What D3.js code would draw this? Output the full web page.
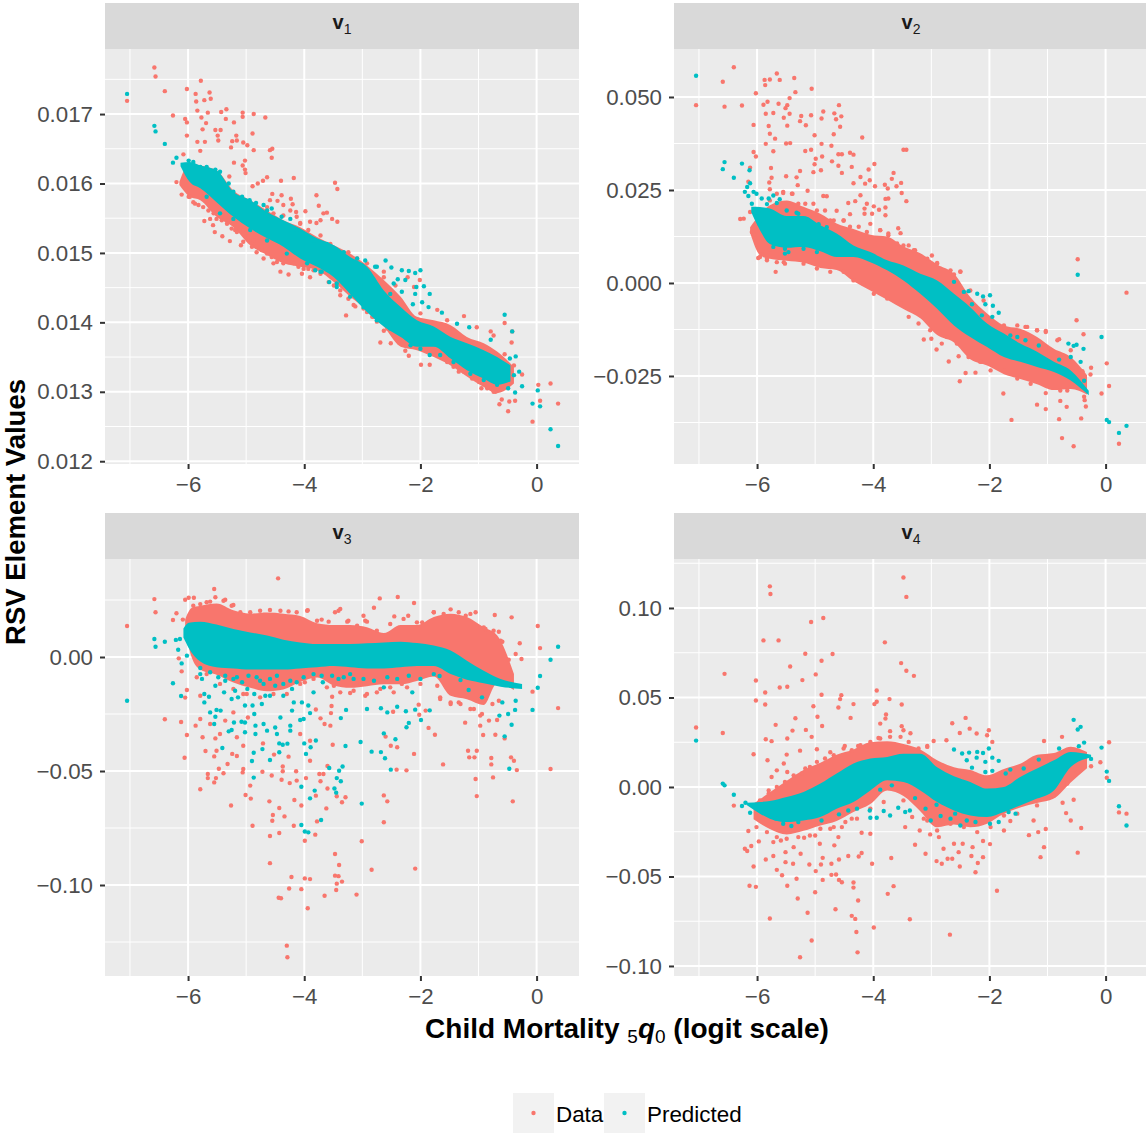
<!DOCTYPE html>
<html>
<head>
<meta charset="utf-8">
<script src="https://cdn.jsdelivr.net/npm/d3@7"></script>
<style>
  body { margin: 0; background: #fff; }
  svg { display: block; font-family: "Liberation Sans", Arial, sans-serif; }
</style>
</head>
<body>
<div id="chart"></div>
<script>
// x axis, shared by all panels
const xTicks = [-6, -4, -2, 0];
const xMinor = [-7, -5, -3, -1];
const xDomain = [-7.43, 0.73];

// y axes
const v1Ticks = [0.012, 0.013, 0.014, 0.015, 0.016, 0.017];
const v1Minor = [0.0125, 0.0135, 0.0145, 0.0155, 0.0165, 0.0175];
const v1Domain = [0.01196, 0.017937];
const v2Ticks = [-0.025, 0, 0.025, 0.05];
const v2Minor = [-0.0375, -0.0125, 0.0125, 0.0375];
const v2Domain = [-0.04866, 0.0629];
const v3Ticks = [-0.10, -0.05, 0];
const v3Minor = [-0.125, -0.075, -0.025, 0.025];
const v3Domain = [-0.1399, 0.04298];
const v4Ticks = [-0.10, -0.05, 0, 0.05, 0.10];
const v4Minor = [-0.075, -0.025, 0.025, 0.075, 0.125];
const v4Domain = [-0.1056, 0.12737];

const legendLabels = ["Data", "Predicted"];

// solid part of each cloud: [x, top, bottom]
const v1DataBand = [[-6.15,.01602,.01598],[-5.97,.01629,.01581],[-5.79,.01626,.01576],[-5.51,.01619,.01552],[-5.22,.01590,.01537],[-4.93,.01576,.01511],[-4.64,.01561,.01497],[-4.36,.01547,.01485],[-4.07,.01537,.01480],[-3.78,.01523,.01475],[-3.49,.01511,.01458],[-3.21,.01499,.01437],[-2.92,.01482,.01418],[-2.63,.01461,.01394],[-2.34,.01437,.01365],[-2.06,.01408,.01360],[-1.77,.01403,.01350],[-1.48,.01396,.01338],[-1.20,.01379,.01322],[-0.91,.01370,.01307],[-0.68,.01358,.01298],[-0.39,.01336,.01312]];
const v1PredBand = [[-6.13,.01630,.01625],[-5.97,.01631,.01602],[-5.79,.01626,.01593],[-5.51,.01619,.01573],[-5.22,.01588,.01552],[-4.93,.01576,.01535],[-4.64,.01559,.01521],[-4.36,.01547,.01509],[-4.07,.01535,.01492],[-3.78,.01521,.01480],[-3.49,.01511,.01465],[-3.21,.01494,.01441],[-2.92,.01480,.01415],[-2.63,.01446,.01394],[-2.34,.01422,.01379],[-2.06,.01403,.01365],[-1.77,.01394,.01365],[-1.48,.01379,.01348],[-1.20,.01370,.01331],[-0.91,.01360,.01319],[-0.68,.01350,.01310],[-0.45,.01338,.01315]];
const v2DataBand = [[-6.12,.0150,.0135],[-5.95,.0185,.0075],[-5.78,.0209,.0065],[-5.49,.0222,.0060],[-5.20,.0205,.0055],[-4.91,.0186,.0040],[-4.63,.0160,.0035],[-4.34,.0145,.0005],[-4.05,.0130,-.0020],[-3.76,.0125,-.0045],[-3.48,.0098,-.0070],[-3.19,.0080,-.0095],[-2.90,.0050,-.0140],[-2.61,.0025,-.0160],[-2.33,-.0038,-.0205],[-2.04,-.0082,-.0222],[-1.75,-.0114,-.0245],[-1.47,-.0123,-.0258],[-1.18,-.0145,-.0272],[-0.89,-.0177,-.0288],[-0.60,-.0199,-.0285],[-0.32,-.0248,-.0300]];
const v2PredBand = [[-6.10,.0205,.0190],[-5.95,.0204,.0142],[-5.78,.0200,.0105],[-5.49,.0180,.0095],[-5.20,.0180,.0097],[-4.91,.0155,.0085],[-4.63,.0133,.0070],[-4.34,.0101,.0070],[-4.05,.0083,.0056],[-3.76,.0061,.0034],[-3.48,.0047,.0007],[-3.19,.0025,-.0029],[-2.90,.0007,-.0069],[-2.61,-.0029,-.0114],[-2.33,-.0065,-.0145],[-2.04,-.0109,-.0172],[-1.75,-.0136,-.0199],[-1.47,-.0163,-.0212],[-1.18,-.0185,-.0226],[-0.89,-.0212,-.0239],[-0.60,-.0235,-.0262],[-0.29,-.0290,-.0302]];
const v3DataBand = [[-6.05,.0165,.0120],[-5.94,.0215,.0000],[-5.79,.0225,-.0055],[-5.51,.0235,-.0078],[-5.22,.0205,-.0112],[-4.93,.0190,-.0135],[-4.64,.0195,-.0150],[-4.36,.0190,-.0142],[-4.07,.0180,-.0110],[-3.78,.0148,-.0090],[-3.49,.0140,-.0125],[-3.21,.0140,-.0135],[-2.92,.0130,-.0128],[-2.63,.0105,-.0120],[-2.34,.0140,-.0120],[-2.06,.0140,-.0105],[-1.77,.0175,-.0085],[-1.48,.0190,-.0170],[-1.20,.0175,-.0185],[-0.91,.0130,-.0210],[-0.68,.0095,-.0115],[-0.39,-.0075,-.0145]];
const v3PredBand = [[-6.08,.0125,.0085],[-5.99,.0150,.0040],[-5.79,.0155,-.0020],[-5.51,.0142,-.0045],[-5.22,.0123,-.0050],[-4.93,.0108,-.0055],[-4.64,.0094,-.0055],[-4.36,.0076,-.0055],[-4.07,.0064,-.0050],[-3.78,.0057,-.0045],[-3.49,.0057,-.0040],[-3.21,.0057,-.0045],[-2.92,.0060,-.0050],[-2.63,.0064,-.0050],[-2.34,.0067,-.0045],[-2.06,.0061,-.0040],[-1.77,.0050,-.0040],[-1.48,.0028,-.0075],[-1.20,-.0016,-.0100],[-0.91,-.0060,-.0115],[-0.62,-.0096,-.0130],[-0.25,-.0118,-.0140]];
const v4DataBand = [[-6.06,-.0093,-.0180],[-5.78,-.0030,-.0235],[-5.49,.0035,-.0265],[-5.20,.0095,-.0245],[-4.91,.0135,-.0215],[-4.63,.0180,-.0190],[-4.34,.0210,-.0140],[-4.05,.0250,-.0095],[-3.76,.0255,-.0019],[-3.48,.0240,-.0050],[-3.19,.0210,-.0135],[-2.90,.0150,-.0225],[-2.61,.0110,-.0210],[-2.33,.0095,-.0225],[-2.04,.0065,-.0205],[-1.75,.0100,-.0150],[-1.47,.0130,-.0115],[-1.18,.0180,-.0090],[-0.89,.0190,-.0065],[-0.60,.0225,.0025],[-0.32,.0195,.0105]];
const v4PredBand = [[-6.18,-.0088,-.0100],[-5.95,-.0084,-.0149],[-5.78,-.0078,-.0177],[-5.49,-.0056,-.0196],[-5.20,-.0028,-.0187],[-4.91,.0019,-.0168],[-4.63,.0075,-.0121],[-4.34,.0131,-.0084],[-4.05,.0159,-.0019],[-3.76,.0168,.0037],[-3.48,.0185,.0028],[-3.19,.0185,-.0019],[-2.90,.0110,-.0084],[-2.61,.0060,-.0131],[-2.33,.0028,-.0159],[-2.04,-.0009,-.0168],[-1.75,.0000,-.0140],[-1.47,.0056,-.0103],[-1.18,.0103,-.0065],[-0.89,.0149,-.0019],[-0.60,.0196,.0112],[-0.25,.0180,.0165]];

// points along the rough edge of each solid part: [x, y]
const v1DataEdge = [[-5.97,.01581],[-5.91,.01573],[-5.82,.01569],[-5.74,.01566],[-5.65,.01561],[-5.56,.01557],[-5.51,.01549],[-5.42,.01547],[-5.33,.01542],[-5.25,.01535],[-5.16,.01530],[-5.05,.01533],[-4.96,.01523],[-4.87,.01518],[-4.82,.01509],[-4.73,.01504],[-4.64,.01499],[-4.56,.01494],[-4.47,.01487],[-4.36,.01485],[-4.27,.01487],[-4.18,.01485],[-4.10,.01480],[-4.01,.01477],[-3.93,.01477],[-3.84,.01475],[-3.72,.01470],[-3.58,.01458],[-3.49,.01453],[-3.38,.01446],[-3.24,.01434],[-3.15,.01425],[-2.98,.01420],[-2.83,.01408],[-2.75,.01401],[-2.57,.01391],[-2.46,.01382],[-2.29,.01374],[-2.14,.01370],[-1.77,.01358],[-1.54,.01343],[-1.43,.01336],[-1.25,.01329],[-1.11,.01319],[-0.99,.01314],[-0.85,.01305],[-0.74,.01300],[-0.65,.01307],[-4.64,.01566],[-4.53,.01557],[-4.36,.01554],[-4.24,.01561],[-4.13,.01552],[-4.07,.01542],[-3.93,.01533],[-3.72,.01525],[-3.55,.01513],[-3.35,.01501],[-3.24,.01501],[-3.09,.01492],[-2.92,.01485],[-2.63,.01473]];
const v1PredEdge = [[-6.05,.01626],[-5.99,.01633],[-5.91,.01631],[-5.79,.01624],[-5.68,.01624],[-5.53,.01620],[-5.45,.01617],[-5.30,.01600],[-5.22,.01588],[-5.07,.01581],[-4.64,.01561],[-4.39,.01552],[-4.13,.01533],[-3.84,.01518],[-3.61,.01513],[-3.32,.01501],[-3.09,.01492],[-2.95,.01489],[-2.78,.01480],[-5.68,.01581],[-5.45,.01557],[-5.22,.01549],[-4.93,.01533],[-4.64,.01518],[-4.30,.01499],[-3.95,.01485],[-3.72,.01473],[-3.44,.01456],[-3.21,.01437],[-2.98,.01422],[-2.75,.01403],[-2.52,.01391],[-2.17,.01367],[-2.00,.01362],[-1.66,.01353],[-1.43,.01343],[-1.14,.01326],[-0.91,.01317],[-0.68,.01310]];
const v2DataEdge = [[-5.78,.0222],[-5.66,.0240],[-5.55,.0242],[-5.40,.0240],[-5.29,.0213],[-5.17,.0213],[-5.03,.0213],[-4.97,.0195],[-4.83,.0195],[-4.74,.0168],[-4.51,.0168],[-4.40,.0151],[-4.25,.0151],[-4.11,.0137],[-3.88,.0142],[-3.74,.0133],[-3.59,.0106],[-3.48,.0101],[-3.30,.0088],[-3.07,.0065],[-2.90,.0052],[-2.67,.0034],[-2.50,.0030],[-2.33,-.0020],[-2.10,-.0047],[-1.75,-.0114],[-1.52,-.0114],[-1.35,-.0118],[-1.18,-.0127],[-1.03,-.0132],[-0.83,-.0154],[-0.60,-.0181],[-0.40,-.0239],[-5.95,.0070],[-5.83,.0061],[-5.66,.0056],[-5.52,.0052],[-5.20,.0052],[-4.97,.0039],[-4.74,.0030],[-4.51,.0030],[-4.34,.0007],[-4.17,-.0002],[-3.99,-.0029],[-3.76,-.0042],[-3.53,-.0056],[-3.39,-.0091],[-3.22,-.0109],[-3.02,-.0127],[-2.73,-.0145],[-2.56,-.0163],[-2.36,-.0199],[-2.16,-.0212],[-1.98,-.0235],[-1.75,-.0235],[-1.52,-.0257],[-1.29,-.0271],[-1.03,-.0296],[-0.78,-.0289],[-0.66,-.0289],[-0.37,-.0306]];
const v2PredEdge = [[-5.83,.0212],[-5.66,.0215],[-5.49,.0195],[-5.29,.0186],[-5.12,.0170],[-4.94,.0158],[-4.80,.0150],[-5.72,.0097],[-5.52,.0092],[-5.20,.0092],[-4.97,.0083]];
const v3DataEdge = [[-5.91,.0225],[-5.79,.0232],[-5.68,.0240],[-5.53,.0262],[-5.39,.0247],[-5.25,.0225],[-5.10,.0196],[-4.93,.0196],[-4.76,.0203],[-4.59,.0206],[-4.41,.0203],[-4.27,.0200],[-4.13,.0196],[-3.95,.0203],[-3.78,.0159],[-3.58,.0155],[-3.41,.0203],[-3.24,.0159],[-3.09,.0137],[-2.95,.0159],[-2.75,.0115],[-2.52,.0145],[-2.29,.0167],[-2.06,.0152],[-1.97,.0152],[-1.77,.0196],[-1.60,.0189],[-1.34,.0196],[-1.14,.0189],[-0.91,.0130],[-0.74,.0115],[-0.62,.0072],[-5.85,-.0089],[-5.68,-.0075],[-5.45,-.0118],[-5.22,-.0140],[-4.99,-.0162],[-4.76,-.0177],[-4.53,-.0162],[-4.30,-.0162],[-4.07,-.0118],[-3.84,-.0096],[-3.61,-.0133],[-3.38,-.0155],[-3.15,-.0148],[-2.92,-.0162],[-2.69,-.0140],[-2.46,-.0155],[-2.23,-.0133],[-2.00,-.0118],[-1.66,-.0177],[-1.48,-.0199],[-1.34,-.0199],[-1.14,-.0228],[-0.97,-.0257],[-0.76,-.0206],[-0.56,-.0118]];
const v3PredEdge = [[-5.79,-.0075],[-5.62,-.0067],[-5.48,-.0089],[-5.36,-.0082],[-5.22,-.0096],[-5.07,-.0111],[-4.96,-.0082],[-4.82,-.0089],[-4.70,-.0118],[-4.59,-.0096],[-4.47,-.0082],[-4.36,-.0118],[-4.24,-.0104],[-4.13,-.0111],[-4.01,-.0089],[-3.84,-.0075],[-3.70,-.0082],[-3.52,-.0082],[-3.32,-.0089],[-3.21,-.0075],[-2.98,-.0096],[-2.80,-.0104],[-2.57,-.0089],[-2.40,-.0096],[-2.20,-.0082],[-2.00,-.0096],[-1.77,-.0075]];
const v4DataEdge = [[-5.95,-.0075],[-5.80,-.0037],[-5.66,.0000],[-5.52,.0028],[-5.37,.0065],[-5.23,.0075],[-5.09,.0112],[-4.97,.0140],[-4.83,.0159],[-4.68,.0177],[-4.51,.0215],[-4.37,.0205],[-4.22,.0233],[-4.05,.0252],[-3.88,.0271],[-3.71,.0280],[-3.53,.0280],[-3.39,.0252],[-3.22,.0215],[-3.07,.0224],[-6.01,-.0224],[-5.83,-.0252],[-5.66,-.0280],[-5.49,-.0289],[-5.29,-.0280],[-5.09,-.0271],[-4.91,-.0233],[-4.68,-.0224],[-4.48,-.0196],[-4.28,-.0177],[-4.05,-.0121],[-3.82,-.0084],[-3.48,-.0075],[-3.33,-.0168],[-3.07,-.0187],[-2.90,-.0243],[-2.67,-.0205],[-2.44,-.0224],[-2.21,-.0252],[-1.98,-.0224],[-1.75,-.0159],[-1.52,-.0149],[-1.18,-.0103],[-0.89,-.0047],[-0.66,.0019],[-0.49,.0084]];

// single points outside the solid part: [x, y]
const v1Data = [[-7.05,.01719],[-6.58,.01767],[-6.56,.01754],[-6.40,.01733],[-6.26,.01698],[-6.02,.01736],[-5.78,.01748],[-5.87,.01729],[-5.63,.01731],[-5.61,.01722],[-5.72,.01720],[-5.86,.01718],[-5.84,.01705],[-5.66,.01702],[-5.43,.01703],[-5.34,.01707],[-5.06,.01702],[-5.06,.01696],[-4.87,.01700],[-4.67,.01695],[-5.77,.01695],[-6.05,.01693],[-6.02,.01688],[-5.35,.01693],[-5.21,.01688],[-5.69,.01687],[-5.75,.01678],[-5.53,.01677],[-5.44,.01677],[-4.89,.01672],[-6.02,.01669],[-5.49,.01669],[-5.17,.01669],[-5.48,.01662],[-5.84,.01660],[-5.71,.01660],[-5.24,.01661],[-5.16,.01662],[-5.05,.01659],[-4.98,.01655],[-5.26,.01652],[-4.87,.01648],[-5.79,.01647],[-4.55,.01650],[-4.59,.01648],[-4.56,.01637],[-5.02,.01633],[-5.21,.01630],[-5.06,.01626],[-5.02,.01620],[-5.01,.01615],[-6.08,.01642],[-5.29,.01610],[-4.64,.01609],[-4.18,.01608],[-4.40,.01604],[-4.71,.01604],[-4.80,.01600],[-4.89,.01596],[-3.47,.01601],[-3.43,.01592],[-3.79,.01583],[-4.55,.01585],[-4.39,.01583],[-4.23,.01578],[-4.46,.01575],[-4.59,.01576],[-4.20,.01570],[-3.75,.01568],[-4.36,.01569],[-3.98,.01560],[-4.14,.01559],[-3.61,.01558],[-3.67,.01557],[-3.52,.01549],[-3.43,.01545],[-3.72,.01547],[-3.90,.01545],[-4.07,.01543],[-3.79,.01543],[-6.20,.01602],[-6.11,.01584],[-5.99,.01581],[-5.88,.01571],[-5.72,.01546],[-5.62,.01549],[-5.57,.01540],[-5.54,.01530],[-5.41,.01524],[-5.28,.01517],[-5.05,.01516],[-5.09,.01511],[-5.19,.01533],[-4.90,.01509],[-4.82,.01501],[-4.70,.01492],[-4.53,.01485],[-4.41,.01473],[-4.27,.01469],[-4.04,.01470],[-3.90,.01465],[-4.21,.01487],[-3.28,.01410],[-3.38,.01439],[-3.12,.01423],[-2.92,.01415],[-2.80,.01408],[-2.69,.01371],[-2.63,.01388],[-2.51,.01370],[-2.37,.01371],[-2.26,.01359],[-2.20,.01352],[-1.99,.01339],[-1.84,.01339],[-1.25,.01409],[-1.03,.01393],[-0.79,.01387],[-0.74,.01381],[-0.55,.01399],[-0.42,.01387],[-0.43,.01371],[-0.55,.01354],[-0.39,.01338],[-0.25,.01325],[-0.37,.01287],[-0.60,.01289],[-0.64,.01282],[-0.47,.01286],[-0.49,.01272],[-0.71,.01300],[-0.95,.01305],[-1.34,.01329],[-0.07,.01257],[0.03,.01310],[0.24,.01312],[0.06,.01287],[0.37,.01283],[-2.11,.01451],[-2.01,.01461],[-2.22,.01465],[-2.43,.01453],[-2.63,.01465],[-2.00,.01413],[-1.71,.01418],[-1.54,.01403]];
const v1Pred = [[-7.05,.01729],[-6.58,.01683],[-6.56,.01675],[-6.40,.01657],[-6.26,.01630],[-6.20,.01637],[-4.94,.01576],[-4.83,.01572],[-4.70,.01569],[-4.56,.01564],[-4.24,.01549],[-2.60,.01489],[-2.75,.01480],[-2.50,.01479],[-2.32,.01475],[-2.20,.01474],[-2.09,.01471],[-2.00,.01475],[-2.39,.01462],[-2.26,.01461],[-2.32,.01444],[-2.07,.01451],[-1.94,.01452],[-1.84,.01441],[-2.09,.01441],[-2.13,.01426],[-1.97,.01429],[-1.86,.01422],[-2.46,.01456],[-2.52,.01441],[-0.55,.01411],[-0.42,.01387],[-1.16,.01393],[-1.37,.01398],[-0.79,.01375],[-1.63,.01414],[-1.84,.01353],[-0.36,.01351],[-0.46,.01348],[-0.39,.01324],[-0.49,.01305],[-0.37,.01299],[-0.25,.01308],[-0.30,.01329],[-0.07,.01283],[0.02,.01302],[0.06,.01279],[0.24,.01246],[0.37,.01222],[-3.57,.01458],[-3.44,.01451],[-3.70,.01473],[-3.81,.01475]];

const v2Data = [[-7.05,.0478],[-6.40,.0580],[-6.59,.0541],[-6.56,.0474],[-6.26,.0477],[-6.02,.0510],[-5.87,.0546],[-5.86,.0532],[-5.78,.0547],[-5.66,.0563],[-5.61,.0546],[-5.36,.0551],[-5.34,.0513],[-5.44,.0497],[-5.06,.0522],[-5.82,.0487],[-5.89,.0479],[-5.63,.0482],[-5.48,.0478],[-5.51,.0470],[-5.85,.0455],[-5.72,.0457],[-5.44,.0455],[-5.54,.0444],[-5.24,.0449],[-5.07,.0451],[-4.86,.0461],[-4.67,.0456],[-4.59,.0478],[-4.55,.0448],[-4.89,.0442],[-4.64,.0440],[-5.26,.0435],[-5.16,.0424],[-6.06,.0425],[-5.80,.0422],[-5.48,.0423],[-4.57,.0420],[-5.78,.0401],[-5.01,.0397],[-5.69,.0388],[-4.68,.0400],[-4.19,.0391],[-5.85,.0374],[-5.50,.0375],[-5.43,.0376],[-4.89,.0374],[-4.72,.0369],[-6.06,.0352],[-6.02,.0340],[-5.72,.0354],[-5.17,.0355],[-5.07,.0358],[-3.48,.0358],[-3.43,.0358],[-4.60,.0346],[-4.54,.0346],[-4.40,.0350],[-4.34,.0345],[-4.88,.0340],[-4.99,.0334],[-4.71,.0327],[-3.98,.0320],[-5.01,.0319],[-4.60,.0315],[-4.37,.0312],[-5.76,.0309],[-6.12,.0310],[-4.08,.0305],[-4.90,.0303],[-5.03,.0298],[-5.26,.0301],[-4.54,.0296],[-3.65,.0296],[-5.50,.0287],[-5.32,.0284],[-5.75,.0283],[-4.22,.0285],[-3.68,.0280],[-4.06,.0276],[-6.15,.0272],[-5.79,.0270],[-5.30,.0263],[-4.34,.0268],[-4.14,.0267],[-3.52,.0269],[-3.97,.0260],[-3.80,.0264],[-3.60,.0260],[-3.75,.0254],[-5.78,.0252],[-5.13,.0248],[-3.51,.0242],[-5.55,.0245],[-5.39,.0240],[-4.86,.0234],[-4.80,.0233],[-4.22,.0236],[-3.74,.0227],[-3.79,.0226],[-3.43,.0220],[-4.43,.0215],[-4.31,.0220],[-4.11,.0213],[-3.99,.0206],[-4.15,.0200],[-3.90,.0197],[-3.79,.0203],[-4.63,.0194],[-4.02,.0186],[-4.40,.0185],[-3.79,.0182],[-4.15,.0186],[-6.29,.0172],[-6.23,.0173],[-6.12,.0191],[-6.09,.0137],[-6.05,.0131],[-4.68,.0168],[-4.51,.0168],[-4.05,.0159],[-3.57,.0147],[-3.53,.0134],[-3.88,.0142],[-3.74,.0128],[-5.98,.0067],[-5.92,.0077],[-5.68,.0030],[-5.83,.0065],[-5.78,.0090],[-5.54,.0056],[-3.13,-.0152],[-3.00,-.0150],[-2.91,-.0179],[-2.82,-.0163],[-2.70,-.0211],[-2.51,-.0264],[-2.41,-.0242],[-2.24,-.0241],[-2.53,-.0197],[-2.13,-.0212],[-1.76,-.0297],[-1.62,-.0368],[-1.18,-.0327],[-1.03,-.0339],[-0.80,-.0366],[-0.75,-.0417],[-0.55,-.0439],[-0.42,-.0364],[-0.34,-.0332],[-0.67,-.0333],[-0.78,-.0317],[-0.36,-.0315],[-0.07,-.0297],[0.02,-.0216],[0.06,-.0277],[0.23,-.0432],[-0.48,.0064],[0.36,-.0026],[-0.50,-.0100],[-0.38,-.0138],[-0.25,-.0228],[-0.26,-.0246],[-0.40,-.0237],[-1.18,-.0127],[-1.03,-.0129],[-1.38,-.0118],[-0.80,-.0151],[-2.50,.0031],[-2.61,.0023],[-2.90,.0054],[-2.99,.0074],[-3.28,.0088],[-3.39,.0101]];
const v2Pred = [[-7.05,.0557],[-6.56,.0325],[-6.59,.0306],[-6.26,.0321],[-6.13,.0303],[-6.40,.0283],[-6.12,.0268],[-6.17,.0258],[-6.21,.0245],[-6.15,.0234],[-6.06,.0245],[-6.01,.0240],[-6.09,.0213],[-5.92,.0227],[-5.80,.0227],[-5.72,.0235],[-5.61,.0225],[-6.00,.0179],[-5.98,.0191],[-5.96,.0159],[-5.32,.0189],[-5.52,.0079],[-5.46,.0083],[-2.61,.0003],[-2.44,-.0024],[-2.36,-.0022],[-2.21,-.0029],[-2.11,-.0036],[-1.99,-.0033],[-2.07,-.0057],[-1.94,-.0061],[-1.84,-.0080],[-2.13,-.0087],[-1.95,-.0091],[-2.30,-.0057],[-0.48,.0022],[-0.07,-.0145],[-0.64,-.0163],[-0.55,-.0169],[-0.50,-.0166],[-0.38,-.0177],[-0.60,-.0199],[-0.43,-.0212],[-0.80,-.0206],[-0.37,-.0263],[0.02,-.0368],[0.06,-.0374],[0.23,-.0403],[0.36,-.0384],[-1.15,-.0168],[-1.52,-.0145],[-1.38,-.0154],[-1.64,-.0141]];

const v3Data = [[-7.05,.0136],[-6.58,.0254],[-6.56,.0196],[-6.26,.0162],[-6.20,.0192],[-6.09,.0164],[-6.05,.0251],[-5.99,.0260],[-5.90,.0260],[-5.55,.0298],[-4.45,.0345],[-2.70,.0257],[-2.39,.0263],[-2.11,.0237],[-2.80,.0216],[-5.62,.0243],[-5.36,.0251],[-5.22,.0228],[-3.94,.0205],[-3.38,.0211],[-3.47,.0196],[-2.98,.0181],[-2.45,.0178],[-2.21,.0181],[-1.77,.0196],[-1.48,.0209],[-1.05,.0196],[-0.72,.0184],[-0.43,.0174],[0.02,.0136],[-0.29,.0060],[0.06,.0039],[-3.70,.0164],[-3.26,.0155],[-2.92,.0155],[-1.22,.0181],[-0.88,.0123],[-0.65,.0111],[-0.59,.0067],[-0.36,.0013],[-0.26,-.0009],[-0.48,-.0012],[-0.07,-.0152],[0.37,-.0224],[0.24,-.0491],[-0.34,-.0496],[-0.39,-.0455],[-0.44,-.0440],[-0.75,-.0528],[-0.78,-.0443],[-0.78,-.0471],[-0.41,-.0633],[-1.03,-.0610],[-1.05,-.0535],[-1.18,-.0411],[-1.16,-.0440],[-1.03,-.0411],[-1.07,-.0440],[-1.61,-.0471],[-0.71,-.0341],[-0.92,-.0342],[-0.55,-.0357],[-1.23,-.0288],[-0.97,-.0301],[-0.82,-.0279],[-0.68,-.0276],[-1.75,-.0341],[-1.86,-.0311],[-1.66,-.0184],[-1.48,-.0206],[-1.31,-.0206],[-1.08,-.0228],[-0.94,-.0250],[-0.65,-.0192],[-2.11,-.0425],[-2.40,-.0396],[-2.51,-.0389],[-2.60,-.0349],[-2.41,-.0494],[-2.24,-.0497],[-2.63,-.0607],[-2.57,-.0633],[-2.63,-.0725],[-3.01,-.0808],[-2.84,-.0933],[-2.09,-.0928],[-3.47,-.0864],[-3.40,-.0912],[-3.47,-.0959],[-3.41,-.0961],[-3.35,-.0985],[-3.44,-.0994],[-3.45,-.1022],[-3.10,-.1042],[-3.65,-.1047],[-3.94,-.1102],[-3.99,-.0971],[-3.90,-.0974],[-4.22,-.0965],[-4.26,-.1015],[-4.05,-.1018],[-4.44,-.1056],[-4.40,-.1058],[-4.30,-.1266],[-4.29,-.1317],[-4.59,-.0904],[-4.59,-.0785],[-4.43,-.0772],[-3.99,-.0806],[-3.81,-.0779],[-4.18,-.0740],[-4.89,-.0740],[-4.55,-.0718],[-4.34,-.0699],[-4.54,-.0693],[-4.43,-.0662],[-4.05,-.0651],[-4.60,-.0633],[-4.17,-.0627],[-4.92,-.0621],[-5.01,-.0605],[-5.26,-.0651],[-3.62,-.0664],[-3.78,-.0721],[-3.35,-.0637],[-3.29,-.0615],[-3.44,-.0611],[-3.80,-.0608],[-3.60,-.0577],[-3.72,-.0545],[-3.74,-.0513],[-3.67,-.0513],[-3.60,-.0478],[-3.90,-.0455],[-4.14,-.0501],[-3.97,-.0531],[-4.13,-.0542],[-4.39,-.0538],[-4.25,-.0553],[-4.56,-.0520],[-4.72,-.0503],[-4.37,-.0501],[-4.37,-.0480],[-4.93,-.0564],[-5.05,-.0491],[-5.06,-.0506],[-5.39,-.0510],[-5.47,-.0490],[-5.52,-.0531],[-5.55,-.0550],[-5.66,-.0513],[-5.66,-.0531],[-5.79,-.0580],[-5.32,-.0469],[-5.24,-.0425],[-5.16,-.0434],[-5.55,-.0436],[-5.70,-.0412],[-5.51,-.0411],[-6.06,-.0442],[-6.02,-.0342],[-6.12,-.0285],[-6.40,-.0273],[-6.05,-.0178],[-6.02,-.0145],[-6.11,-.0063],[-6.16,-.0006],[-5.87,-.0301],[-5.79,-.0272],[-5.62,-.0294],[-5.75,-.0352],[-5.53,-.0357],[-5.45,-.0338],[-5.16,-.0352],[-5.36,-.0279],[-5.05,-.0389],[-4.71,-.0379],[-4.52,-.0428],[-4.27,-.0437],[-3.90,-.0367],[-3.51,-.0385],[-4.07,-.0338],[-3.72,-.0269],[-3.55,-.0301],[-3.65,-.0294],[-3.54,-.0246],[-3.53,-.0215],[-3.80,-.0230],[-3.52,-.0174],[-3.21,-.0158],[-2.95,-.0170],[-2.75,-.0155],[-2.52,-.0133],[-2.47,-.0240],[-2.02,-.0253],[-2.03,-.0209],[-1.91,-.0235],[-5.22,-.0243],[-4.97,-.0265],[-5.79,-.0170],[-5.05,-.0162],[-4.64,-.0118],[-3.99,-.0111],[-3.49,-.0126],[-3.03,-.0118],[-2.32,-.0118],[-1.71,-.0126]];
const v3Pred = [[-7.05,-.0192],[-6.58,.0079],[-6.56,.0045],[-6.40,.0067],[-6.21,.0075],[-6.14,.0079],[-6.26,-.0115],[-6.17,.0032],[-6.11,-.0028],[-6.12,-.0171],[-6.02,.0006],[-5.79,-.0048],[-5.76,-.0096],[-5.72,-.0162],[-5.72,-.0199],[-5.62,-.0243],[-5.64,-.0174],[-5.51,-.0232],[-5.53,-.0262],[-5.55,-.0294],[-5.44,-.0235],[-5.53,-.0126],[-5.38,-.0155],[-5.25,-.0184],[-5.14,-.0177],[-5.21,-.0287],[-5.30,-.0326],[-5.25,-.0320],[-5.41,-.0399],[-5.08,-.0284],[-5.02,-.0287],[-5.02,-.0330],[-4.84,-.0338],[-4.86,-.0250],[-4.84,-.0301],[-4.70,-.0294],[-4.64,-.0323],[-4.50,-.0309],[-4.47,-.0338],[-4.41,-.0265],[-4.21,-.0235],[-4.07,-.0276],[-4.24,-.0301],[-4.24,-.0323],[-4.01,-.0272],[-3.90,-.0246],[-4.04,-.0199],[-3.93,-.0213],[-4.67,-.0170],[-4.86,-.0162],[-4.59,-.0170],[-4.36,-.0170],[-4.18,-.0199],[-4.89,-.0213],[-4.73,-.0206],[-5.02,-.0213],[-4.59,-.0452],[-4.90,-.0456],[-4.87,-.0420],[-4.72,-.0404],[-4.87,-.0529],[-4.43,-.0379],[-4.43,-.0418],[-4.29,-.0380],[-4.37,-.0385],[-4.00,-.0379],[-3.89,-.0396],[-3.80,-.0366],[-3.97,-.0425],[-3.29,-.0390],[-3.03,-.0373],[-2.84,-.0415],[-2.68,-.0417],[-2.61,-.0444],[-2.51,-.0494],[-2.43,-.0361],[-2.63,-.0335],[-2.24,-.0308],[-2.20,-.0289],[-3.57,-.0487],[-3.34,-.0480],[-3.40,-.0499],[-3.44,-.0531],[-3.37,-.0545],[-3.48,-.0577],[-3.45,-.0595],[-3.82,-.0586],[-3.90,-.0620],[-4.05,-.0569],[-3.01,-.0643],[-3.71,-.0715],[-4.05,-.0737],[-3.99,-.0765],[-3.93,-.0769],[-3.28,-.0232],[-3.37,-.0268],[-2.92,-.0228],[-2.68,-.0225],[-2.57,-.0243],[-2.40,-.0218],[-2.25,-.0238],[-2.09,-.0231],[-1.84,-.0234],[-1.99,-.0276],[-0.47,-.0490],[-0.43,-.0297],[-0.55,-.0348],[-0.64,-.0257],[-0.49,-.0250],[-0.37,-.0232],[-0.07,-.0232],[0.02,-.0135],[0.06,-.0083],[0.24,-.0012],[0.37,.0045],[-0.36,-.0192],[-0.59,-.0199],[-0.94,-.0177],[-1.17,-.0145],[-1.31,-.0101],[-1.67,-.0083],[-2.14,-.0155],[-2.63,-.0133],[-3.15,-.0096],[-3.41,-.0096],[-3.68,-.0111],[-3.84,-.0155],[-5.16,-.0089],[-5.36,-.0104],[-4.76,-.0104],[-4.50,-.0126],[-4.21,-.0140],[-5.19,-.0148],[-4.98,-.0140]];

const v4Data = [[-7.05,.0332],[-6.59,.0302],[-6.56,.0632],[-6.40,-.0104],[-6.02,.0595],[-6.02,.0483],[-6.06,.0183],[-5.89,.0819],[-5.63,.0819],[-5.78,.1121],[-5.77,.1078],[-5.86,.0528],[-5.86,.0461],[-5.61,.0556],[-5.48,.0560],[-5.43,.0673],[-5.17,.0744],[-5.07,.0922],[-4.86,.0944],[-4.99,.0629],[-5.22,.0597],[-4.89,.0705],[-4.70,.0743],[-4.89,.0515],[-5.03,.0451],[-5.34,.0384],[-5.68,.0347],[-5.85,.0267],[-5.75,.0256],[-5.48,.0271],[-5.39,.0315],[-5.16,.0319],[-5.06,.0280],[-4.96,.0392],[-4.88,.0341],[-5.82,.0149],[-5.49,.0181],[-5.26,.0203],[-4.97,.0211],[-4.55,.0513],[-4.57,.0491],[-4.60,.0444],[-4.34,.0463],[-4.39,.0386],[-3.80,.0808],[-3.52,.0692],[-3.43,.0649],[-3.30,.0621],[-3.48,.1170],[-3.43,.1062],[-3.94,.0539],[-3.72,.0491],[-3.98,.0463],[-3.94,.0476],[-3.51,.0461],[-3.78,.0405],[-3.79,.0382],[-3.88,.0354],[-3.51,.0340],[-2.41,.0386],[-2.64,.0356],[-2.34,.0326],[-2.01,.0317],[-2.51,.0302],[-2.22,.0299],[-2.04,.0289],[-2.74,.0261],[-2.96,.0257],[-3.07,.0229],[-1.95,.0252],[-1.06,.0257],[-0.75,.0280],[0.06,.0250],[-0.09,.0138],[0.02,.0052],[0.23,-.0142],[0.36,-.0149],[-0.25,.0116],[-0.55,-.0071],[-0.68,-.0146],[-0.60,-.0187],[-0.42,-.0229],[-0.48,-.0367],[-0.74,-.0088],[-1.03,-.0235],[-1.16,-.0252],[-1.06,-.0336],[-1.12,-.0392],[-1.32,-.0269],[-1.24,-.0187],[-1.75,-.0243],[-1.64,-.0190],[-1.99,-.0319],[-1.87,-.0580],[-2.24,-.0476],[-2.11,-.0392],[-2.20,-.0425],[-2.31,-.0386],[-2.29,-.0336],[-2.11,-.0302],[-2.46,-.0317],[-2.53,-.0364],[-2.51,-.0444],[-2.64,-.0401],[-2.72,-.0401],[-2.82,-.0429],[-2.91,-.0414],[-2.68,-.0825],[-2.61,-.0317],[-2.79,-.0345],[-2.87,-.0280],[-3.02,-.0265],[-3.10,-.0373],[-3.28,-.0323],[-3.20,-.0243],[-3.45,-.0224],[-3.13,-.0177],[-3.37,-.0739],[-3.65,-.0554],[-3.75,-.0597],[-3.69,-.0397],[-4.02,-.0429],[-4.20,-.0256],[-4.05,-.0261],[-3.99,-.0785],[-4.27,-.0924],[-4.29,-.0810],[-4.31,-.0737],[-4.37,-.0720],[-4.26,-.0634],[-4.34,-.0562],[-4.34,-.0534],[-4.54,-.0532],[-4.59,-.0519],[-4.64,-.0489],[-4.72,-.0491],[-4.72,-.0429],[-4.65,-.0683],[-4.87,-.0519],[-5.00,-.0588],[-4.99,-.0470],[-4.90,-.0433],[-5.10,-.0433],[-4.87,-.0396],[-4.59,-.0405],[-4.43,-.0386],[-4.25,-.0388],[-4.20,-.0369],[-4.67,-.0326],[-4.60,-.0280],[-4.92,-.0317],[-5.06,-.0858],[-5.26,-.0951],[-5.13,-.0703],[-5.30,-.0623],[-5.32,-.0513],[-5.48,-.0552],[-5.57,-.0493],[-5.66,-.0463],[-5.78,-.0735],[-6.06,-.0444],[-6.13,-.0552],[-6.02,-.0558],[-6.21,-.0345],[-6.17,-.0358],[-6.10,-.0330],[-6.15,-.0246],[-5.97,-.0304],[-5.85,-.0405],[-5.72,-.0386],[-5.51,-.0420],[-5.38,-.0429],[-5.25,-.0373],[-5.51,-.0364],[-5.37,-.0336],[-5.59,-.0299],[-5.72,-.0308],[-5.19,-.0284],[-5.00,-.0271],[-4.74,-.0233],[-4.54,-.0224],[-4.37,-.0177],[-5.54,.0131],[-5.66,.0093],[-5.48,.0084],[-5.75,.0056],[-5.80,-.0019],[-5.17,.0103],[-4.74,.0194],[-4.49,.0229],[-4.26,.0229],[-3.91,.0274],[-3.71,.0312],[-3.48,.0317],[-3.36,.0300]];
const v4Pred = [[-7.05,.0259],[-6.59,.0019],[-6.56,.0009],[-6.40,-.0043],[-6.26,-.0106],[-6.20,-.0088],[-6.12,-.0144],[-5.67,-.0177],[-5.55,-.0205],[-5.41,-.0218],[-5.29,-.0196],[-4.89,-.0187],[-4.59,-.0153],[-4.43,-.0131],[-4.28,-.0121],[-4.06,-.0131],[-4.05,-.0172],[-3.94,-.0172],[-3.82,-.0134],[-3.71,-.0159],[-3.88,-.0015],[-3.68,.0009],[-3.57,-.0116],[-3.45,-.0140],[-3.37,-.0131],[-3.28,-.0062],[-3.10,-.0121],[-3.01,-.0187],[-2.91,-.0099],[-2.84,-.0162],[-2.67,-.0177],[-2.59,-.0149],[-2.50,-.0215],[-2.39,-.0187],[-2.24,-.0196],[-1.99,-.0205],[-1.84,-.0196],[-1.67,-.0140],[-1.55,-.0149],[-2.61,.0209],[-2.47,.0187],[-2.35,.0192],[-2.21,.0196],[-2.39,.0149],[-2.11,.0190],[-2.01,.0215],[-1.95,.0164],[-1.84,.0146],[-2.22,.0164],[-2.07,.0140],[-2.30,.0108],[-2.07,.0084],[-1.95,.0090],[-1.72,.0075],[-1.64,.0097],[-1.41,.0103],[-1.15,.0153],[-0.80,.0215],[-0.55,.0375],[-0.48,.0321],[-0.43,.0336],[-0.37,.0248],[-0.46,.0228],[-0.25,.0157],[-0.07,.0220],[0.02,.0086],[0.06,.0034],[0.23,-.0108],[0.36,-.0215]];

const width = 1146, height = 1133;
const dataColor = "#F8766D", predColor = "#00BFC4";
const panelW = 474;

const panels = [
    { sub: "1", left: 105, top: 49, bottom: 464, domain: v1Domain, ticks: v1Ticks, minor: v1Minor, fmt: ".3f", data: v1Data.concat(v1DataEdge), pred: v1Pred.concat(v1PredEdge), dataBand: v1DataBand, predBand: v1PredBand },
    { sub: "2", left: 674, top: 49, bottom: 464, domain: v2Domain, ticks: v2Ticks, minor: v2Minor, fmt: ".3f", data: v2Data.concat(v2DataEdge), pred: v2Pred.concat(v2PredEdge), dataBand: v2DataBand, predBand: v2PredBand },
    { sub: "3", left: 105, top: 559, bottom: 976, domain: v3Domain, ticks: v3Ticks, minor: v3Minor, fmt: ".2f", data: v3Data.concat(v3DataEdge), pred: v3Pred.concat(v3PredEdge), dataBand: v3DataBand, predBand: v3PredBand },
    { sub: "4", left: 674, top: 559, bottom: 976, domain: v4Domain, ticks: v4Ticks, minor: v4Minor, fmt: ".2f", data: v4Data.concat(v4DataEdge), pred: v4Pred, dataBand: v4DataBand, predBand: v4PredBand }
];

const svg = d3.select("#chart").append("svg")
    .attr("width", width)
    .attr("height", height);

function drawPanel(p, i) {
    const xScale = d3.scaleLinear().domain(xDomain).range([p.left, p.left + panelW]);
    const yScale = d3.scaleLinear().domain(p.domain).range([p.bottom, p.top]);
    const g = svg.append("g").attr("class", "panel");

    // strip
    g.append("rect")
        .attr("x", p.left).attr("y", p.top - 46)
        .attr("width", panelW).attr("height", 46)
        .attr("fill", "#d9d9d9");
    const strip = g.append("text")
        .attr("x", p.left + panelW / 2).attr("y", p.top - 20)
        .attr("text-anchor", "middle")
        .attr("font-size", 20).attr("font-weight", "bold").attr("fill", "#1a1a1a");
    strip.append("tspan").text("v");
    strip.append("tspan").text(p.sub)
        .attr("dy", 5).attr("font-size", 14).attr("font-weight", "normal");

    // panel background and grid
    g.append("rect")
        .attr("x", p.left).attr("y", p.top)
        .attr("width", panelW).attr("height", p.bottom - p.top)
        .attr("fill", "#ebebeb");
    const grid = g.append("g").attr("stroke", "#fff").attr("fill", "none");
    grid.selectAll(".minor-x").data(xMinor).enter().append("line")
        .attr("x1", d => xScale(d)).attr("x2", d => xScale(d))
        .attr("y1", p.top).attr("y2", p.bottom).attr("stroke-width", 1);
    grid.selectAll(".minor-y").data(p.minor).enter().append("line")
        .attr("x1", p.left).attr("x2", p.left + panelW)
        .attr("y1", d => yScale(d)).attr("y2", d => yScale(d)).attr("stroke-width", 1);
    grid.selectAll(".major-x").data(xTicks).enter().append("line")
        .attr("x1", d => xScale(d)).attr("x2", d => xScale(d))
        .attr("y1", p.top).attr("y2", p.bottom).attr("stroke-width", 2);
    grid.selectAll(".major-y").data(p.ticks).enter().append("line")
        .attr("x1", p.left).attr("x2", p.left + panelW)
        .attr("y1", d => yScale(d)).attr("y2", d => yScale(d)).attr("stroke-width", 2);

    // clouds, data under predicted
    const area = d3.area()
        .x(d => xScale(d[0]))
        .y0(d => yScale(d[2]))
        .y1(d => yScale(d[1]))
        .curve(d3.curveMonotoneX);
    [[p.dataBand, p.data, dataColor], [p.predBand, p.pred, predColor]].forEach(([band, pts, color]) => {
        g.append("path").datum(band)
            .attr("d", area)
            .attr("fill", color);
        g.selectAll(null).data(pts).enter().append("circle")
            .attr("cx", d => xScale(d[0]))
            .attr("cy", d => yScale(d[1]))
            .attr("r", 2.2)
            .attr("fill", color);
    });

    // axes
    const xAxis = g.append("g")
        .attr("transform", `translate(0,${p.bottom})`)
        .call(d3.axisBottom(xScale).tickValues(xTicks).tickSize(5).tickPadding(7));
    const yAxis = g.append("g")
        .attr("transform", `translate(${p.left},0)`)
        .call(d3.axisLeft(yScale).tickValues(p.ticks).tickSize(5).tickPadding(7).tickFormat(d3.format(p.fmt)));
    [xAxis, yAxis].forEach(a => {
        a.select(".domain").remove();
        a.selectAll("line").attr("stroke", "#333").attr("stroke-width", 2);
        a.selectAll("text").attr("fill", "#4d4d4d").attr("font-size", 22.3)
            .attr("font-family", "'Liberation Sans', Arial, sans-serif");
    });
}

panels.forEach(drawPanel);

// axis titles
svg.append("text")
    .attr("transform", "translate(25,512) rotate(-90)")
    .attr("text-anchor", "middle")
    .attr("font-size", 27.5).attr("font-weight", "bold")
    .text("RSV Element Values");

const xTitle = svg.append("text")
    .attr("x", 627).attr("y", 1038)
    .attr("text-anchor", "middle")
    .attr("font-size", 28).attr("font-weight", "bold");
xTitle.append("tspan").text("Child Mortality ");
xTitle.append("tspan").text("5").attr("dy", 5).attr("font-size", 19).attr("font-weight", "normal");
xTitle.append("tspan").text("q").attr("dy", -5).attr("font-style", "italic");
xTitle.append("tspan").text("0").attr("dy", 5).attr("font-size", 19).attr("font-weight", "normal");
xTitle.append("tspan").text(" (logit scale)").attr("dy", -5);

// legend
const legend = svg.append("g").attr("class", "legend");
const keyX = [513, 604];
const textX = [556, 647];
legendLabels.forEach((label, i) => {
    legend.append("rect")
        .attr("x", keyX[i]).attr("y", 1093)
        .attr("width", 41).attr("height", 40)
        .attr("fill", "#f2f2f2");
    legend.append("circle")
        .attr("cx", keyX[i] + 20.5).attr("cy", 1113)
        .attr("r", 2.2)
        .attr("fill", i === 0 ? dataColor : predColor);
    legend.append("text")
        .attr("x", textX[i]).attr("y", 1122)
        .attr("font-size", 22.4)
        .text(label);
});
</script>
</body>
</html>
